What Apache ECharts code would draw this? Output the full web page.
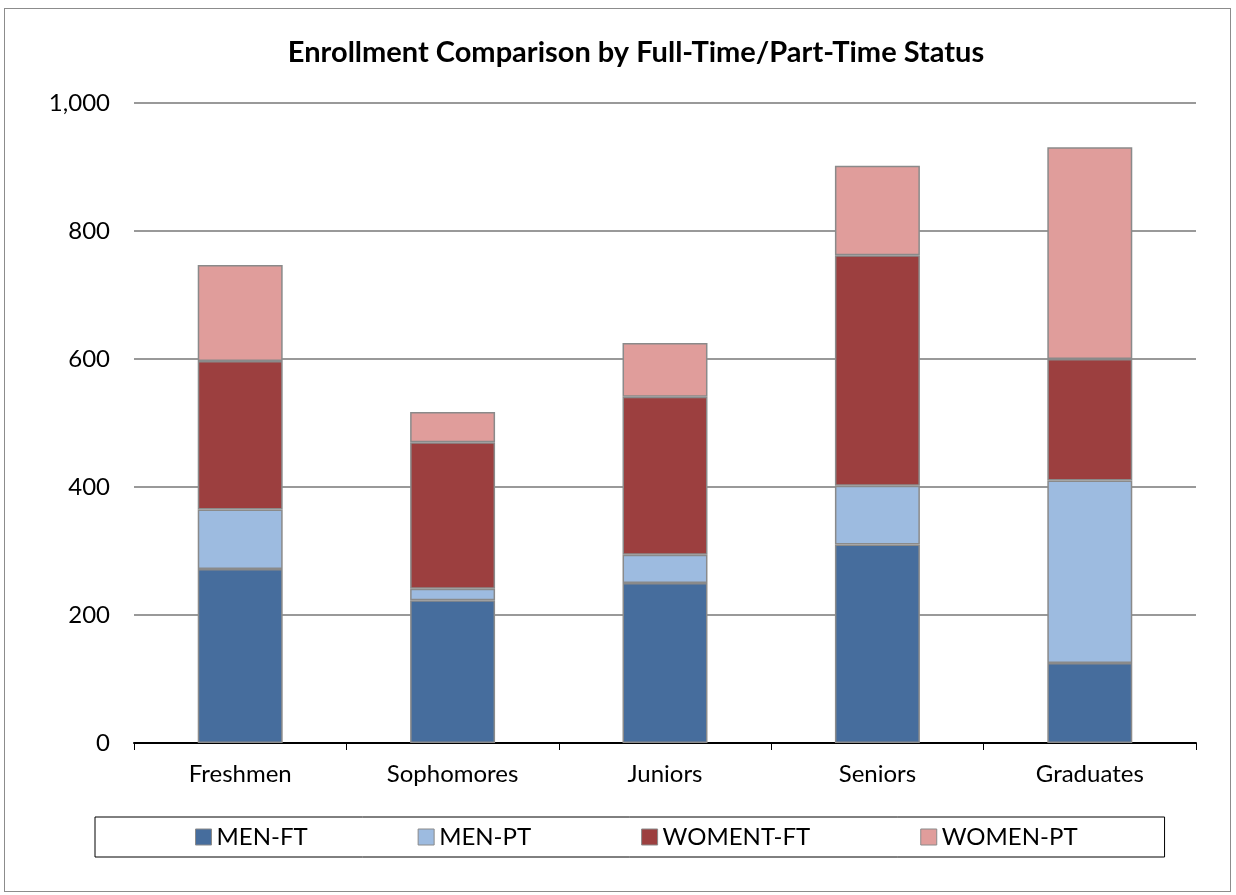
<!DOCTYPE html>
<html>
<head>
<meta charset="utf-8">
<script src="https://cdn.jsdelivr.net/npm/echarts@6/dist/echarts.min.js"></script>
<style>
html,body{margin:0;padding:0;background:#fff;}
#wrap{position:absolute;left:4px;top:8px;width:1227px;height:884px;border:1px solid #8c8c8c;box-sizing:border-box;}
#chart{position:absolute;left:0;top:0;width:1236px;height:895px;}
</style>
</head>
<body>
<div id="wrap"></div>
<div id="chart"></div>
<script>
var categories=['Freshmen','Sophomores','Juniors','Seniors','Graduates'];
var menFT=[272,223,250,310,125];
var menPT=[93,18,44,92,285];
var womenFT=[232,229,247,360,190];
var womenPT=[150,47,84,140,331];
var seriesNames=['MEN-FT','MEN-PT','WOMENT-FT','WOMEN-PT'];
var seriesColors=['#466d9d','#9dbbe0','#9c3f3f','#e09d9b'];
var yTicks=[0,200,400,600,800,1000];

var fontName='Lato, "Open Sans", sans-serif';
var mychart=echarts.init(document.getElementById('chart'));
var values=[menFT,menPT,womenFT,womenPT];
var series=[];
for(var i=0;i<values.length;i++){
	series.push({
		name:seriesNames[i],
		type:'bar',
		stack:'total',
		barWidth:'40%',
		data:values[i],
		itemStyle:{color:seriesColors[i],borderColor:'#8a8a8a',borderWidth:1.5}
	});
}
var option={
	animation:false,
	textStyle:{fontFamily:fontName},
	title:{
		text:'Enrollment Comparison by Full-Time/Part-Time Status',
		left:631,
		textAlign:'center',
		top:33,
		textStyle:{fontSize:29,fontWeight:'bold',color:'#000',fontFamily:fontName}
	},
	grid:{left:134,right:40,top:103,bottom:152},
	legend:{
		bottom:38,
		left:95,
		itemWidth:16,
		itemHeight:16,
		itemGap:110,
		padding:[8,87,8,100],
		borderColor:'#000',
		borderWidth:1,
		icon:'rect',
		itemStyle:{borderColor:'#8a8a8a',borderWidth:1},
		textStyle:{fontSize:24,color:'#000',fontFamily:fontName},
		data:seriesNames
	},
	xAxis:{
		type:'category',
		data:categories,
		axisLine:{lineStyle:{color:'#000',width:2}},
		axisTick:{show:true,inside:false,length:7,lineStyle:{color:'#000'}},
		axisLabel:{fontSize:24,color:'#000',margin:19,fontFamily:fontName}
	},
	yAxis:{
		type:'value',
		min:yTicks[0],
		max:yTicks[yTicks.length-1],
		interval:200,
		axisLine:{show:false},
		axisTick:{show:false},
		splitLine:{lineStyle:{color:'#999',width:2}},
		axisLabel:{fontSize:24,color:'#000',margin:24,fontFamily:fontName,
			formatter:function(v){return v.toLocaleString('en-US');}}
	},
	series:series
};
mychart.setOption(option);
</script>
</body>
</html>
